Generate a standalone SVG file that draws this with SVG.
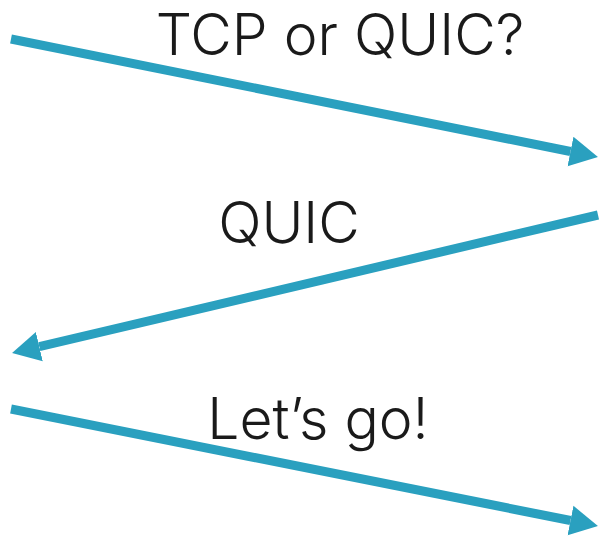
<svg xmlns="http://www.w3.org/2000/svg" width="600" height="537" viewBox="0 0 600 537">
<style>
.lbl{font-family:Inter,"Liberation Sans",sans-serif;font-size:57px;font-weight:350;fill:#1a1a1a;text-anchor:middle}
.conn{stroke:#2aa0bf;stroke-width:9;fill:none}
</style>
<defs>
<marker id="ah" markerUnits="userSpaceOnUse" markerWidth="30" markerHeight="32" viewBox="0 -16 30 32" refX="0" refY="0" orient="auto">
<path d="M0,-15 L28,0 L0,15 Z" fill="#2aa0bf"/>
</marker>
</defs>
<rect width="600" height="537" fill="#ffffff"/>
<g id="connectors">
<line class="conn" x1="11" y1="39" x2="570.5" y2="151.5" marker-end="url(#ah)"/>
<line class="conn" x1="598" y1="215" x2="39.3" y2="346.6" marker-end="url(#ah)"/>
<line class="conn" x1="11" y1="409" x2="570.5" y2="520.5" marker-end="url(#ah)"/>
</g>
<g id="label1"><text class="lbl" x="340" y="55">TCP or QUIC?</text></g>
<g id="label2"><text class="lbl" x="289" y="243">QUIC</text></g>
<g id="label3"><text class="lbl" x="318" y="439">Let’s go!</text></g>
</svg>
